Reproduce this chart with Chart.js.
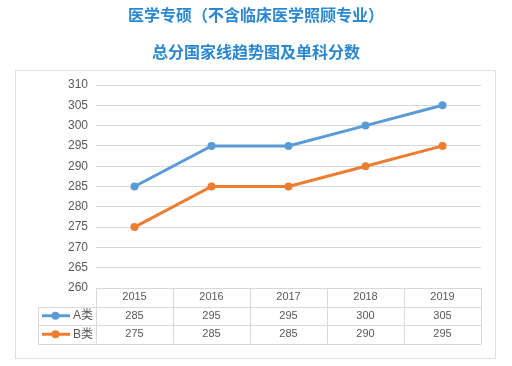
<!DOCTYPE html>
<html>
<head>
<meta charset="utf-8">
<script src="https://cdn.jsdelivr.net/npm/chart.js@4"></script>
<style>
  html, body { margin: 0; padding: 0; background: #fff; }
  #wrap { width: 512px; height: 366px; }
</style>
</head>
<body>
<div id="wrap"><canvas id="chart" width="512" height="366"></canvas></div>
<script>
// chart data
const years = ['2015', '2016', '2017', '2018', '2019'];
const seriesA = [285, 295, 295, 300, 305];
const seriesB = [275, 285, 285, 290, 295];
const seriesNames = ['A类', 'B类'];
const yTicks = [260, 265, 270, 275, 280, 285, 290, 295, 300, 305, 310];

const blue = '#5b9bd5';
const orange = '#ed7d31';
const gridColor = '#d9d9d9';
const textColor = '#595959';
const tickFont = { family: 'Liberation Sans', size: 12 };

// draws outer frame and the data table under the plot
const dataTablePlugin = {
    id: 'dataTable',
    beforeDraw(chart) {
        const ctx = chart.ctx;
        ctx.save();
        ctx.strokeStyle = '#dedede';
        ctx.lineWidth = 1;
        ctx.strokeRect(15.5, 70.5, 480, 288);
        ctx.restore();
    },
    afterDraw(chart) {
        const ctx = chart.ctx;
        const x = chart.scales.x;
        const area = chart.chartArea;
        const colW = (area.right - area.left) / years.length;
        const tableLeft = 38;
        const rows = [area.bottom, area.bottom + 18.5, area.bottom + 37, area.bottom + 55.5];
        const half = v => Math.round(v) + 0.5;

        ctx.save();
        ctx.strokeStyle = gridColor;
        ctx.lineWidth = 1;
        ctx.beginPath();
        // horizontal lines
        ctx.moveTo(area.left, half(rows[0]));
        ctx.lineTo(area.right, half(rows[0]));
        for (let r = 1; r < rows.length; r++) {
            ctx.moveTo(tableLeft, half(rows[r]));
            ctx.lineTo(area.right, half(rows[r]));
        }
        // vertical lines
        for (let i = 0; i <= years.length; i++) {
            const px = half(area.left + i * colW);
            ctx.moveTo(px, rows[0]);
            ctx.lineTo(px, rows[3]);
        }
        ctx.moveTo(half(tableLeft), rows[1]);
        ctx.lineTo(half(tableLeft), rows[3]);
        ctx.stroke();

        ctx.fillStyle = textColor;
        ctx.font = '11px "Liberation Sans"';
        ctx.textAlign = 'center';
        ctx.textBaseline = 'middle';
        const rowMid = r => (rows[r] + rows[r + 1]) / 2;
        years.forEach((yr, i) => {
            const cx = x.getPixelForValue(i);
            ctx.fillText(yr, cx, rowMid(0));
            ctx.fillText(String(seriesA[i]), cx, rowMid(1));
            ctx.fillText(String(seriesB[i]), cx, rowMid(2));
        });

        // legend keys
        const keys = [[blue, seriesNames[0]], [orange, seriesNames[1]]];
        keys.forEach(([color, name], k) => {
            const cy = rowMid(k + 1);
            ctx.strokeStyle = color;
            ctx.lineWidth = 3;
            ctx.beginPath();
            ctx.moveTo(42, cy);
            ctx.lineTo(70, cy);
            ctx.stroke();
            ctx.fillStyle = color;
            ctx.beginPath();
            ctx.arc(55.5, cy, 4, 0, Math.PI * 2);
            ctx.fill();
            ctx.fillStyle = textColor;
            ctx.textAlign = 'left';
            ctx.font = '12px "Liberation Sans", "Noto Sans CJK SC"';
            ctx.fillText(name, 73, cy);
        });
        ctx.restore();
    }
};

new Chart(document.getElementById('chart'), {
    type: 'line',
    data: {
        labels: years,
        datasets: [
            {
                label: seriesNames[0],
                data: seriesA,
                borderColor: blue,
                backgroundColor: blue,
                borderWidth: 3,
                pointRadius: 4,
                pointBorderWidth: 0,
                pointBackgroundColor: blue,
                tension: 0
            },
            {
                label: seriesNames[1],
                data: seriesB,
                borderColor: orange,
                backgroundColor: orange,
                borderWidth: 3,
                pointRadius: 4,
                pointBorderWidth: 0,
                pointBackgroundColor: orange,
                tension: 0
            }
        ]
    },
    options: {
        responsive: false,
        animation: false,
        devicePixelRatio: 1,
        layout: { padding: { left: 31, right: 31, top: 0, bottom: 78 } },
        plugins: {
            legend: { display: false },
            tooltip: { enabled: false },
            title: {
                display: true,
                text: '医学专硕（不含临床医学照顾专业）',
                color: '#2b88d0',
                font: { family: 'Noto Sans CJK SC', size: 16, weight: 'bold' },
                padding: { top: 5, bottom: 18 }
            },
            subtitle: {
                display: true,
                text: '总分国家线趋势图及单科分数',
                color: '#2b88d0',
                font: { family: 'Noto Sans CJK SC', size: 16, weight: 'bold' },
                padding: { top: 0, bottom: 23.6 }
            }
        },
        scales: {
            x: {
                display: false,
                offset: true
            },
            y: {
                min: yTicks[0],
                max: yTicks[yTicks.length - 1],
                afterFit(scale) { scale.width = 65; },
                afterBuildTicks(scale) { scale.ticks = yTicks.map(v => ({ value: v })); },
                grid: { color: gridColor, drawTicks: false },
                border: { display: false },
                ticks: { color: textColor, font: tickFont, padding: 8 }
            }
        }
    },
    plugins: [dataTablePlugin]
});
</script>
</body>
</html>
